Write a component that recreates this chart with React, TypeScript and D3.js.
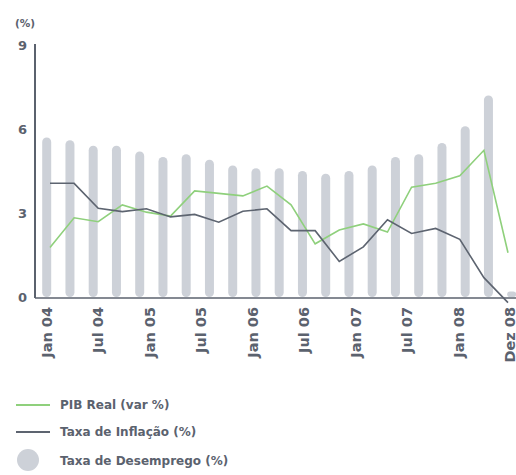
import React from "react";
import * as d3 from "d3";

// x labels (evenly spaced)
const tickLabels = ["Jan 04", "Jul 04", "Jan 05", "Jul 05", "Jan 06", "Jul 06", "Jan 07", "Jul 07", "Jan 08", "Dez 08"];

// unemployment bars (21 periods)
const barPeriods = d3.range(21).map((i) => "b" + i);
const desemprego = [5.7, 5.6, 5.4, 5.4, 5.2, 5.0, 5.1, 4.9, 4.7, 4.6, 4.6, 4.5, 4.4, 4.5, 4.7, 5.0, 5.1, 5.5, 6.1, 7.2, 0.2];

// quarterly lines (20 periods)
const linePeriods = d3.range(20).map((i) => "q" + i);
const pib = [1.77, 2.83, 2.69, 3.29, 3.03, 2.89, 3.79, 3.7, 3.61, 3.96, 3.29, 1.9, 2.39, 2.61, 2.32, 3.92, 4.06, 4.33, 5.24, 1.58];
const inflacao = [4.06, 4.06, 3.17, 3.05, 3.15, 2.86, 2.95, 2.67, 3.06, 3.15, 2.37, 2.37, 1.27, 1.79, 2.76, 2.27, 2.45, 2.06, 0.69, -0.2];

const yTicks = [0, 3, 6, 9];

const W = 516;
const H = 475;
const textColor = "#5b626e";
const barColor = "#cdd1d8";
const green = "#8fd07c";
const dark = "#5d6470";
const font = "'DejaVu Sans', sans-serif";

export default function App() {
  const y = d3.scaleLinear().domain([0, 9]).range([297, 45]);
  const xBar = d3.scalePoint<string>().domain(barPeriods).range([46.7, 511.7]);
  const xLine = d3.scalePoint<string>().domain(linePeriods).range([50, 508]);
  const xLab = d3.scalePoint<string>().domain(tickLabels).range([46.5, 510]);

  const barW = 9;

  const lineGen = (vals: number[]) =>
    d3
      .line<number>()
      .x((_, i) => xLine(linePeriods[i])!)
      .y((d) => y(d))(vals)!;

  return (
    <div style={{ position: "absolute", left: 0, top: 0 }}>
      <svg width={W} height={H} style={{ display: "block", fontFamily: font, fontWeight: "bold" }}>
        <rect width={W} height={H} fill="#fff" />
        {/* bars */}
        {desemprego.map((v, i) => {
          const top = y(v);
          const h = y(0) - top;
          return (
            <rect
              key={i}
              x={xBar(barPeriods[i])! - barW / 2}
              y={top}
              width={barW}
              height={h}
              rx={Math.min(barW / 2, h / 2)}
              fill={barColor}
            />
          );
        })}
        {/* axes */}
        <line x1={35} x2={35} y1={44} y2={298} stroke={textColor} strokeWidth={2} />
        <line x1={35} x2={W} y1={298} y2={298} stroke={textColor} strokeWidth={1.5} />
        {/* lines */}
        <path d={lineGen(pib)} fill="none" stroke={green} strokeWidth={1.6} />
        <path d={lineGen(inflacao)} fill="none" stroke={dark} strokeWidth={1.6} />
        {/* y ticks */}
        <text x={15} y={23} dy="0.35em" fontSize={10.5} fill={textColor}>(%)</text>
        {yTicks.map((t) => (
          <text key={t} x={27} y={y(t)} dy="0.35em" textAnchor="end" fontSize={13} fill={textColor}>
            {t}
          </text>
        ))}
        {/* x labels */}
        {tickLabels.map((l) => (
          <text
            key={l}
            transform={`translate(${xLab(l)! + 5},307) rotate(-90)`}
            textAnchor="end"
            fontSize={14.5}
            fill={textColor}
          >
            {l}
          </text>
        ))}
        {/* legend */}
        <line x1={16} x2={50} y1={405} y2={405} stroke={green} strokeWidth={2} />
        <text x={60} y={405} dy="0.35em" fontSize={12} fill={textColor}>PIB Real (var %)</text>
        <line x1={16} x2={50} y1={432} y2={432} stroke={dark} strokeWidth={2} />
        <text x={60} y={432} dy="0.35em" fontSize={12} fill={textColor}>Taxa de Inflação (%)</text>
        <circle cx={28} cy={460} r={11} fill={barColor} />
        <text x={60} y={461} dy="0.35em" fontSize={12} fill={textColor}>Taxa de Desemprego (%)</text>
      </svg>
    </div>
  );
}
